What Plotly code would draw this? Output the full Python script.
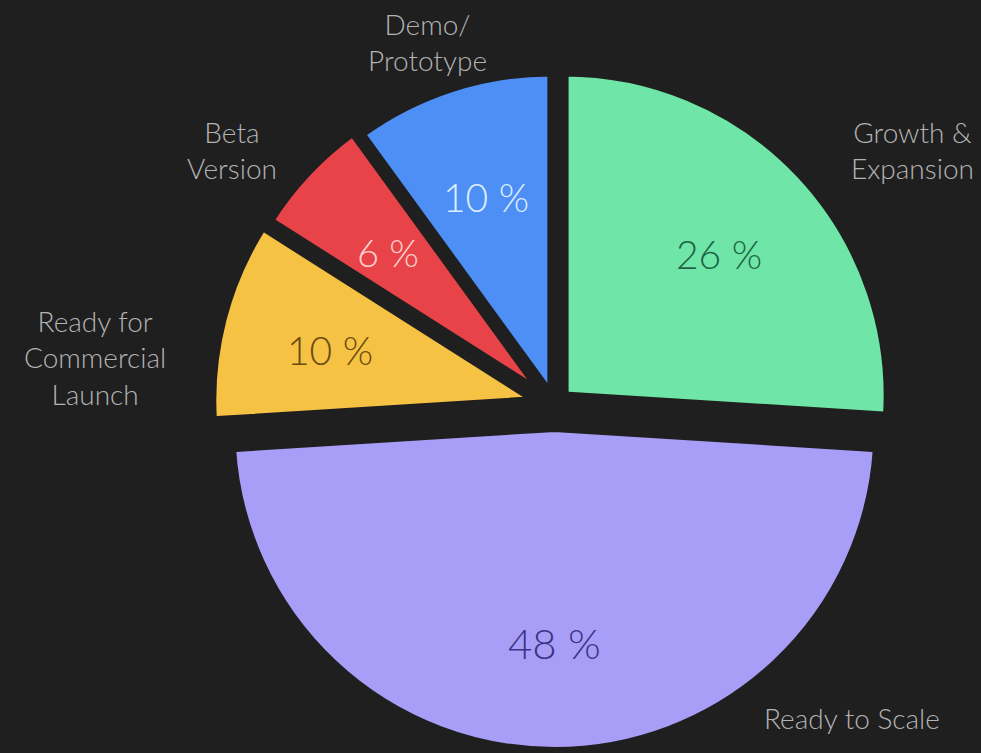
import math
import plotly.graph_objects as go

# Stage of development breakdown (share of companies, %)
stages = ["Growth &<br>Expansion", "Ready to Scale", "Ready for<br>Commercial<br>Launch",
          "Beta<br>Version", "Demo/<br>Prototype"]
shares = [26, 48, 10, 6, 10]

# Styling
slice_colors = ["#6fe6a8", "#a99ef7", "#f6c244", "#e9434a", "#4d8ff4"]
value_colors = ["#1d6343", "#3b3485", "#6a4a12", "#f9d3cb", "#dcedff"]
value_sizes = [39, 42, 39, 38, 39]
pulls = [0.043, 0.071, 0.061, 0.05, 0.031]
# stage-name anchors (paper fractions)
name_pos = [(0.930, 0.801), (0.8685, 0.0465), (0.0968, 0.5246), (0.2365, 0.801), (0.436, 0.944)]

W, H = 981, 753
BG = "#1f1f1f"
FONT = "Lato, 'Open Sans', sans-serif"
DOMAIN_X = [0.2125, 0.9179]
DOMAIN_Y = [0.0027, 0.9217]
TEXT_RADIUS = 0.655  # fraction of the radius where the percentages sit

fig = go.Figure()

fig.add_trace(go.Pie(
    labels=stages, values=shares, sort=False, direction="clockwise", rotation=0,
    pull=pulls, marker=dict(colors=slice_colors, line=dict(color=BG, width=8)),
    textinfo="none", hoverinfo="skip", showlegend=False,
    domain=dict(x=DOMAIN_X, y=DOMAIN_Y),
))

# Pie geometry in pixels, following plotly's own sizing rule for a pulled pie
cx = (DOMAIN_X[0] + DOMAIN_X[1]) / 2 * W
cy = (DOMAIN_Y[0] + DOMAIN_Y[1]) / 2 * H
radius = min((DOMAIN_X[1] - DOMAIN_X[0]) * W, (DOMAIN_Y[1] - DOMAIN_Y[0]) * H) / 2 / (1 + max(pulls))

annotations = []
total = sum(shares)
start = 0.0
for share, pull, color, size in zip(shares, pulls, value_colors, value_sizes):
    mid = math.radians((start + share / 2) / total * 360)
    start += share
    r = (pull + TEXT_RADIUS) * radius
    annotations.append(dict(
        x=(cx + r * math.sin(mid)) / W, y=(cy + r * math.cos(mid)) / H,
        xref="paper", yref="paper", xanchor="center", yanchor="middle",
        showarrow=False, yshift=-3,
        text=f"{share} %", font=dict(family=FONT, size=size, color=color, weight=300),
    ))

for name, (px, py) in zip(stages, name_pos):
    annotations.append(dict(
        x=px, y=py, xref="paper", yref="paper", showarrow=False,
        text=name, align="center", xanchor="center", yanchor="middle",
        font=dict(family=FONT, size=28, color="#b3b3b3", weight=300),
    ))

fig.update_layout(
    width=W, height=H,
    margin=dict(l=0, r=0, t=0, b=0),
    paper_bgcolor=BG, plot_bgcolor=BG,
    showlegend=False, annotations=annotations,
)

fig.write_html("out.html")
